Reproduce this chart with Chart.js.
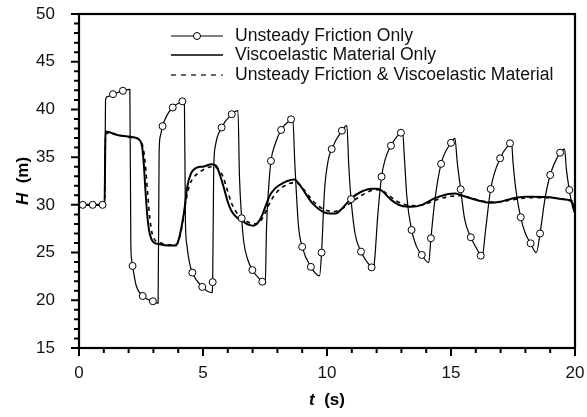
<!DOCTYPE html>
<html>
<head>
<meta charset="utf-8">
<script src="https://cdn.jsdelivr.net/npm/chart.js@4/dist/chart.umd.min.js"></script>
<style>
  html, body { margin: 0; padding: 0; background: #fff; }
  #wrap { width: 587px; height: 417px; }
</style>
</head>
<body>
<div id="wrap"><canvas id="c" width="587" height="417"></canvas></div>
<script>
// Unsteady friction only (line with open circles)
const ufT = [0, 0.15, 0.55, 0.95, 1.03,
  1.07, 1.15, 1.37, 1.77, 2.05,
  2.09, 2.12, 2.16, 2.3, 2.57, 2.98, 3.19,
  3.23, 3.28, 3.37, 3.55, 3.78, 4.17, 4.25,
  4.29, 4.35, 4.45, 4.57, 4.97, 5.36,
  5.39, 5.43, 5.5, 5.75, 6.16, 6.41,
  6.47, 6.56, 6.65, 6.8, 6.99, 7.39, 7.51,
  7.56, 7.64, 7.74, 7.9, 8.15, 8.55, 8.62,
  8.7, 8.85, 9.0, 9.35, 9.7,
  9.78, 9.9, 10.05, 10.19, 10.6, 10.8,
  10.88, 10.97, 11.13, 11.37, 11.8, 11.88,
  11.93, 12.05, 12.2, 12.35, 12.58, 12.98, 13.05,
  13.12, 13.22, 13.41, 13.6, 13.82, 14.1,
  14.19, 14.35, 14.6, 15.0, 15.16,
  15.25, 15.39, 15.55, 15.8, 16.2, 16.25,
  16.4, 16.6, 16.98, 17.38, 17.44,
  17.5, 17.62, 17.81, 18.0, 18.21, 18.44,
  18.59, 18.8, 19.0, 19.4, 19.58,
  19.65, 19.77, 19.9, 20];
const ufH = [30, 30, 30, 30, 30,
  41.0, 41.35, 41.6, 41.95, 42.1,
  26.0, 24.3, 23.6, 21.6, 20.45, 19.9, 19.7,
  35.5, 37.2, 38.25, 39.4, 40.2, 40.85, 40.9,
  28.5, 25.8, 24.0, 22.9, 21.4, 20.8,
  21.9, 33.5, 36.2, 38.1, 39.5, 39.87,
  33.0, 28.6, 26.0, 24.3, 23.17, 21.95, 21.7,
  27.5, 31.5, 34.6, 36.3, 37.85, 38.96, 39.07,
  34.5, 27.8, 25.6, 23.5, 22.55,
  25.0, 31.5, 34.7, 35.85, 37.77, 38.3,
  34.0, 30.6, 27.0, 25.1, 23.45, 23.35,
  24.5, 29.0, 32.95, 34.8, 36.2, 37.56, 37.6,
  35.0, 30.85, 27.37, 25.7, 24.75, 23.94,
  26.5, 30.5, 34.3, 36.5, 36.97,
  34.5, 31.63, 28.5, 26.6, 24.68, 24.46,
  27.5, 31.66, 34.88, 36.45, 36.6,
  34.5, 31.5, 28.7, 27.0, 25.97, 24.99,
  27.0, 30.8, 33.13, 35.47, 35.85,
  33.8, 31.56, 29.8, 29.0];
// times at which the open circles sit
const ufMarkT = [0.15, 0.55, 0.95, 1.37, 1.77, 2.16, 2.57, 2.98, 3.37, 3.78, 4.17,
  4.57, 4.97, 5.39, 5.75, 6.16, 6.56, 6.99, 7.39, 7.74, 8.15, 8.55, 9.0, 9.35,
  9.78, 10.19, 10.6, 10.97, 11.37, 11.8, 12.2, 12.58, 12.98, 13.41, 13.82,
  14.19, 14.6, 15.0, 15.39, 15.8, 16.2, 16.6, 16.98, 17.38, 17.81, 18.21,
  18.59, 19.0, 19.4, 19.77];

// Viscoelastic material only (thick solid)
const veT = [0, 1.03, 1.07, 1.58, 2.19, 2.42, 2.55, 2.62, 2.68, 2.74, 2.82, 2.92, 3.05,
  3.2, 3.6, 3.9, 4.0, 4.12, 4.25, 4.36, 4.5, 4.75, 5.0, 5.35, 5.55, 5.7, 5.85,
  6.0, 6.16, 6.4, 6.63, 6.85, 7.03, 7.2, 7.35, 7.5, 7.7, 7.9, 8.1, 8.4, 8.68,
  8.9, 9.18, 9.4, 9.65, 9.9, 10.12, 10.35, 10.6, 10.99, 11.4, 11.8, 12.0, 12.2,
  12.6, 13.0, 13.41, 13.82, 14.35, 14.89, 15.16, 15.5, 16.03, 16.57, 16.98,
  17.51, 18.0, 18.32, 18.99, 19.53, 19.8, 19.93, 20];
const veH = [30, 30, 37.7, 37.3, 37.08, 36.85, 36.0, 34.0, 31.5, 29.3, 27.4, 26.4, 26.0,
  25.9, 25.75, 25.75, 26.2, 27.5, 29.5, 31.8, 33.2, 33.9, 34.0, 34.25, 34.0, 33.0, 31.7,
  30.3, 29.3, 28.6, 28.24, 27.9, 27.82, 28.1, 28.7, 29.7, 31.0, 31.7, 32.1, 32.5, 32.66,
  32.1, 31.0, 30.2, 29.6, 29.2, 29.1, 29.1, 29.6, 30.7, 31.4, 31.7, 31.7, 31.5,
  30.5, 29.9, 29.8, 30.0, 30.7, 31.14, 31.2, 30.93, 30.5, 30.23, 30.33,
  30.7, 30.85, 30.86, 30.8, 30.58, 30.44, 30.0, 29.2];

// Unsteady friction & viscoelastic material (dashed)
const bothT = [0, 1.03, 1.07, 1.6, 2.2, 2.45, 2.6, 2.7, 2.78, 2.86, 2.95, 3.1, 3.3, 3.6,
  3.95, 4.08, 4.2, 4.32, 4.45, 4.6, 4.85, 5.1, 5.35, 5.6, 5.8, 5.95, 6.15, 6.35,
  6.6, 6.9, 7.15, 7.35, 7.55, 7.75, 8.0, 8.3, 8.6, 8.85, 9.1, 9.4, 9.7, 10.0,
  10.3, 10.6, 11.0, 11.4, 11.8, 12.1, 12.4, 12.8, 13.2, 13.6, 14.0, 14.5, 15.0,
  15.4, 15.9, 16.4, 16.9, 17.4, 17.9, 18.5, 19.0, 19.5, 19.85, 19.95, 20];
const bothH = [30, 30, 37.5, 37.3, 37.0, 36.8, 35.8, 33.5, 30.8, 28.5, 27.0, 26.2, 26.0, 25.8,
  25.9, 26.8, 28.5, 30.5, 32.0, 32.8, 33.4, 33.8, 34.0, 33.8, 33.0, 31.8, 30.2, 29.2,
  28.6, 28.1, 28.0, 28.4, 29.4, 30.5, 31.4, 32.0, 32.3, 32.2, 31.5, 30.5, 29.8, 29.4,
  29.3, 29.6, 30.3, 31.0, 31.5, 31.6, 31.2, 30.4, 30.0, 29.9, 30.1, 30.6, 30.9,
  30.95, 30.65, 30.35, 30.3, 30.5, 30.7, 30.75, 30.75, 30.6, 30.45, 30.1, 29.5];

const seriesNames = ['Unsteady Friction Only', 'Viscoelastic Material Only',
  'Unsteady Friction & Viscoelastic Material'];
const xMajor = [0, 5, 10, 15, 20];
const yMajor = [15, 20, 25, 30, 35, 40, 45, 50];

const FONT = '"Liberation Sans", Arial, sans-serif';
const pts = (t, h) => t.map((v, i) => ({ x: v, y: h[i] }));

// fixed axis boxes, no label overflow padding
const fixBox = (s, size) => {
  if (s.isHorizontal()) s.height = size; else s.width = size;
  s.paddingTop = 0; s.paddingBottom = 0; s.paddingLeft = 0; s.paddingRight = 0;
};

// frame, minor/major tick marks, axis titles, legend
const decor = {
  id: 'decor',
  afterDraw(chart) {
    const { ctx, chartArea: a, scales } = chart;
    ctx.save();
    ctx.strokeStyle = '#000';
    ctx.lineWidth = 2.2;
    ctx.strokeRect(a.left, a.top, a.right - a.left, a.bottom - a.top);

    ctx.lineWidth = 2;
    ctx.beginPath();
    scales.x.ticks.forEach(t => {
      const px = scales.x.getPixelForValue(t.value);
      const len = xMajor.includes(t.value) ? 8 : 5;
      ctx.moveTo(px, a.bottom);
      ctx.lineTo(px, a.bottom + len);
    });
    scales.y.ticks.forEach(t => {
      const py = scales.y.getPixelForValue(t.value);
      const len = yMajor.includes(t.value) ? 8 : 5;
      ctx.moveTo(a.left, py);
      ctx.lineTo(a.left - len, py);
    });
    ctx.stroke();

    // x title: t (s)
    ctx.fillStyle = '#000';
    ctx.textBaseline = 'middle';
    const cx = (a.left + a.right) / 2;
    ctx.font = 'italic bold 17px ' + FONT;
    const w1 = ctx.measureText('t').width;
    ctx.font = 'bold 17px ' + FONT;
    const w2 = ctx.measureText('  (s)').width;
    let x0 = cx - (w1 + w2) / 2;
    ctx.font = 'italic bold 17px ' + FONT;
    ctx.textAlign = 'left';
    ctx.fillText('t', x0, 400);
    ctx.font = 'bold 17px ' + FONT;
    ctx.fillText('  (s)', x0 + w1, 400);

    // y title: H (m)
    ctx.save();
    ctx.translate(23, (a.top + a.bottom) / 2);
    ctx.rotate(-Math.PI / 2);
    ctx.font = 'italic bold 17px ' + FONT;
    const h1 = ctx.measureText('H').width;
    ctx.font = 'bold 17px ' + FONT;
    const h2 = ctx.measureText('  (m)').width;
    x0 = -(h1 + h2) / 2;
    ctx.font = 'italic bold 17px ' + FONT;
    ctx.fillText('H', x0, 0);
    ctx.font = 'bold 17px ' + FONT;
    ctx.fillText('  (m)', x0 + h1, 0);
    ctx.restore();

    // legend
    const rows = [36, 55, 75];
    const lx0 = 171, lx1 = 223, tx = 235;
    ctx.font = '17.6px ' + FONT;
    rows.forEach((y, i) => {
      ctx.beginPath();
      ctx.lineWidth = i === 1 ? 1.6 : 1.2;
      ctx.setLineDash(i === 2 ? [5, 5] : []);
      ctx.moveTo(lx0, y);
      ctx.lineTo(lx1, y);
      ctx.stroke();
      ctx.setLineDash([]);
      if (i === 0) {
        ctx.beginPath();
        ctx.lineWidth = 1;
        ctx.fillStyle = '#fff';
        ctx.arc((lx0 + lx1) / 2, y, 3.5, 0, Math.PI * 2);
        ctx.fill();
        ctx.stroke();
      }
      ctx.fillStyle = '#111';
      ctx.fillText(seriesNames[i], tx, y);
    });
    ctx.restore();
  }
};

new Chart(document.getElementById('c'), {
  type: 'line',
  data: {
    datasets: [
      {
        label: seriesNames[0],
        data: pts(ufT, ufH),
        borderColor: '#000',
        borderWidth: 1.2,
        cubicInterpolationMode: 'monotone',
        pointRadius: c => (c.raw && ufMarkT.includes(c.raw.x)) ? 3.5 : 0,
        pointBackgroundColor: '#fff',
        pointBorderColor: '#000',
        pointBorderWidth: 1,
        pointHoverRadius: 0
      },
      {
        label: seriesNames[1],
        data: pts(veT, veH),
        borderColor: '#000',
        borderWidth: 2,
        cubicInterpolationMode: 'monotone',
        pointRadius: 0
      },
      {
        label: seriesNames[2],
        data: pts(bothT, bothH),
        borderColor: '#000',
        borderWidth: 1.6,
        borderDash: [4, 4],
        cubicInterpolationMode: 'monotone',
        pointRadius: 0
      }
    ]
  },
  options: {
    responsive: false,
    animation: false,
    events: [],
    layout: { padding: { top: 14, right: 12, left: 0, bottom: 0 } },
    plugins: { legend: { display: false }, tooltip: { enabled: false } },
    scales: {
      x: {
        type: 'linear',
        min: 0, max: 20,
        grid: { display: false },
        border: { display: false },
        afterFit: s => fixBox(s, 69),
        ticks: {
          stepSize: 1,
          autoSkip: false,
          maxRotation: 0,
          padding: 7,
          color: '#111',
          font: { family: FONT, size: 17 },
          callback: v => xMajor.includes(v) ? String(v) : ''
        }
      },
      y: {
        min: 15, max: 50,
        grid: { display: false },
        border: { display: false },
        afterFit: s => fixBox(s, 79),
        ticks: {
          stepSize: 1,
          autoSkip: false,
          padding: 16,
          color: '#111',
          font: { family: FONT, size: 17 },
          callback: v => yMajor.includes(v) ? String(v) : ''
        }
      }
    }
  },
  plugins: [decor]
});
</script>
</body>
</html>
